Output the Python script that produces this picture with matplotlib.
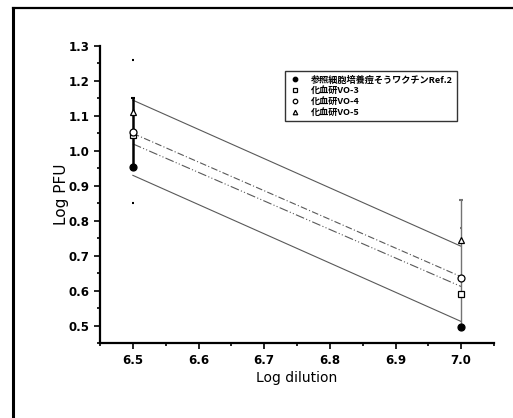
import numpy as np
import matplotlib
matplotlib.use('Agg')
import matplotlib.pyplot as plt
from matplotlib.lines import Line2D
from matplotlib.ticker import MultipleLocator

plt.rcParams['font.family'] = ['Noto Sans CJK JP', 'DejaVu Sans']

# data
x = [6.5, 7.0]
labels = ['参照細胞培養痘そうワクチンRef.2', '化血研VO-3', '化血研VO-4', '化血研VO-5']
markers = ['o', 's', 'o', '^']
faces = ['black', 'white', 'white', 'white']
means = [[0.955, 0.495], [1.045, 0.59], [1.055, 0.635], [1.11, 0.745]]
err_low = [[0.0, 0.0], [0.0, 0.0], [0.205, 0.145], [0.155, 0.115]]
err_up = [[0.0, 0.14], [0.0, 0.0], [0.205, 0.145], [0.04, 0.115]]
fit = [[0.93, 0.512], [1.02, 0.612], [1.05, 0.64], [1.145, 0.727]]
fit_styles = ['-', (0, (8, 2, 1, 2, 1, 2)), (0, (6, 2, 1, 2)), '-']

fig = plt.figure(figsize=(5.13, 4.18), dpi=100)
ax = fig.add_axes([0.195, 0.179, 0.768, 0.711])

# regression lines
for i in range(len(labels)):
    ax.plot(x, fit[i], color='0.35', lw=0.8, ls=fit_styles[i], zorder=2)

# error bars, drawn per dilution (black at 6.5, grey at 7.0)
eb_color = ['black', '0.45']
eb_lw = [1.8, 1.0]
for i in range(len(labels)):
    for j in range(len(x)):
        if err_low[i][j] == 0 and err_up[i][j] == 0:
            continue
        line_w = 0 if i == 2 else eb_lw[j]
        cap = 0.8 if i == 2 else 1.5
        ax.errorbar([x[j]], [means[i][j]], yerr=[[err_low[i][j]], [err_up[i][j]]],
                    fmt='none', ecolor=eb_color[j], elinewidth=line_w,
                    capsize=cap, capthick=1.5, zorder=3)

for i in range(len(labels)):
    ax.plot(x, means[i], ls='none', marker=markers[i], ms=5, mfc=faces[i],
            mec='black', mew=0.9, label=labels[i], zorder=4)

ax.set_xlim(6.45, 7.05)
ax.set_ylim(0.45, 1.3)
ax.xaxis.set_major_locator(MultipleLocator(0.1))
ax.xaxis.set_minor_locator(MultipleLocator(0.05))
ax.yaxis.set_major_locator(MultipleLocator(0.1))
ax.yaxis.set_minor_locator(MultipleLocator(0.05))
ax.set_xticks([6.5, 6.6, 6.7, 6.8, 6.9, 7.0])
ax.set_yticks([0.5, 0.6, 0.7, 0.8, 0.9, 1.0, 1.1, 1.2, 1.3])
ax.tick_params(which='both', direction='out', width=1.2, labelsize=8.5)
ax.tick_params(which='major', length=4)
ax.tick_params(which='minor', length=2.5)
for lab in ax.get_xticklabels() + ax.get_yticklabels():
    lab.set_fontweight('bold')
    lab.set_family('DejaVu Sans')

for s in ['top', 'right']:
    ax.spines[s].set_visible(False)
for s in ['left', 'bottom']:
    ax.spines[s].set_linewidth(1.6)

ax.set_xlabel('Log dilution', fontsize=10, family='DejaVu Sans', labelpad=3)
ax.set_ylabel('Log PFU', fontsize=11, family='DejaVu Sans', labelpad=0)

leg = ax.legend(loc='upper left', bbox_to_anchor=(0.47, 0.915), borderaxespad=0,
                fontsize=6.6, frameon=True, fancybox=False, handlelength=1.2,
                handletextpad=1.2, labelspacing=0.2, borderpad=0.45,
                markerscale=0.65)
leg.get_frame().set_edgecolor('black')
leg.get_frame().set_linewidth(1.0)
for t in leg.get_texts():
    t.set_fontweight('bold')

# outer frame of the scanned page
fig.add_artist(Line2D([12.5 / 513, 12.5 / 513], [0, 1 - 8 / 418], color='black', lw=2.2))
fig.add_artist(Line2D([12.5 / 513, 1], [1 - 8 / 418, 1 - 8 / 418], color='black', lw=1.6))

fig.savefig('out.png', dpi=100)
